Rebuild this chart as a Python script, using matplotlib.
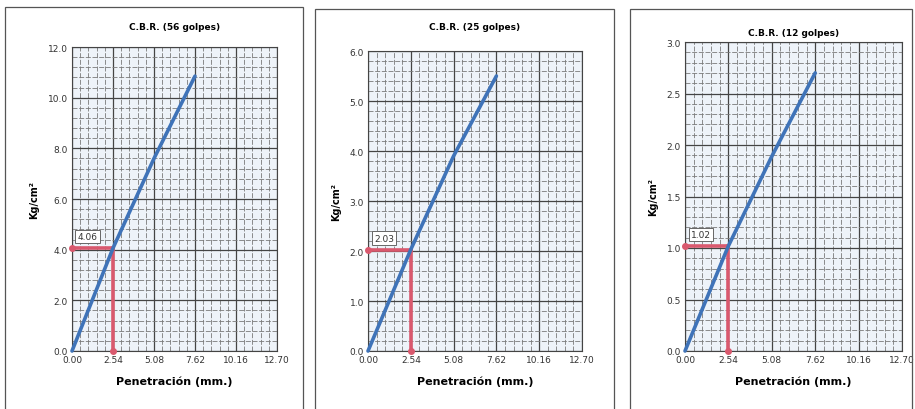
import matplotlib.pyplot as plt
import numpy as np
from matplotlib.patches import Rectangle
from matplotlib.ticker import MultipleLocator

# data
penetration = [0.00, 2.54, 5.08, 7.62]
titles = ["C.B.R. (56 golpes)", "C.B.R. (25 golpes)", "C.B.R. (12 golpes)"]
loads_56 = [0.0, 4.06, 7.6, 10.85]
loads_25 = [0.0, 2.03, 3.9, 5.5]
loads_12 = [0.0, 1.02, 1.89, 2.7]
loads = [loads_56, loads_25, loads_12]
cbr_values = [4.06, 2.03, 1.02]
y_max = [12.0, 6.0, 3.0]
y_step = [2.0, 1.0, 0.5]
x_ticks = [0.00, 2.54, 5.08, 7.62, 10.16, 12.70]

blue = "#3f73b8"
red = "#d9596e"

W, H = 915, 410
fig = plt.figure(figsize=(W / 100, H / 100), dpi=100)
fig.patch.set_facecolor("white")

# panel frames (left, top, width) and axes boxes (left, top, width, height) in pixels
frames = [(5, 8, 298), (315, 10, 299), (630, 10, 282)]
axes_pos = [(72, 48, 205, 304), (368, 52, 214, 300), (685, 43, 217, 309)]
title_y = [27, 28, 33]

for i in range(3):
    fx, ft, fw = frames[i]
    fig.patches.append(Rectangle((fx / W, -0.01), fw / W, (H - ft) / H + 0.01,
                                 transform=fig.transFigure, fill=False,
                                 edgecolor="#555555", linewidth=0.9))

    l, t, w, h = axes_pos[i]
    ax = fig.add_axes([l / W, (H - t - h) / H, w / W, h / H])
    ax.set_facecolor("#eef3f9")

    ax.set_xlim(0, 12.70)
    ax.set_ylim(0, y_max[i])
    ax.set_xticks(x_ticks)
    ax.set_xticklabels(["{:.2f}".format(v) for v in x_ticks], fontsize=6.5, color="#333333")
    yt = np.arange(0, y_max[i] + 1e-9, y_step[i])
    ax.set_yticks(yt)
    ax.set_yticklabels(["{:.1f}".format(v) for v in yt], fontsize=6.5, color="#333333")
    ax.xaxis.set_minor_locator(MultipleLocator(2.54 / 5))
    ax.yaxis.set_minor_locator(MultipleLocator(y_step[i] / 5))
    ax.tick_params(which="both", length=0, pad=3)
    ax.grid(which="major", color="#444444", linewidth=0.9)
    ax.grid(which="minor", color="#7a7a7a", linewidth=0.6, linestyle=(0, (6, 2)))
    for s in ax.spines.values():
        s.set_color("#444444")
        s.set_linewidth(0.8)

    fig.text((l + w / 2) / W, 1 - title_y[i] / H, titles[i], fontsize=6.5,
             fontweight="bold", ha="center", va="center")
    ax.set_xlabel("Penetración (mm.)", fontsize=8, fontweight="bold", labelpad=8)
    ax.set_ylabel("Kg/cm²", fontsize=7, fontweight="bold", labelpad=6)

    # CBR reading at 2.54 mm
    v = cbr_values[i]
    ax.plot([0, 2.54], [v, v], color=red, linewidth=2.6, zorder=3, clip_on=False)
    ax.plot([2.54, 2.54], [0, v], color=red, linewidth=2.6, zorder=3, clip_on=False)
    ax.plot([0], [v], "o", color=red, markersize=4, zorder=4, clip_on=False)
    ax.plot([2.54], [0], "o", color=red, markersize=4, zorder=4, clip_on=False)

    ax.plot(penetration, loads[i], color=blue, linewidth=2.6, zorder=5,
            solid_capstyle="round", clip_on=False)

    ax.annotate("{:.2f}".format(v), xy=(0.35, v), xytext=(0, 5),
                textcoords="offset points", fontsize=6.5, color="#333333",
                ha="left", va="bottom",
                bbox=dict(boxstyle="square,pad=0.25", facecolor="white",
                          edgecolor="#666666", linewidth=0.7))

fig.savefig("out.png", dpi=100)
